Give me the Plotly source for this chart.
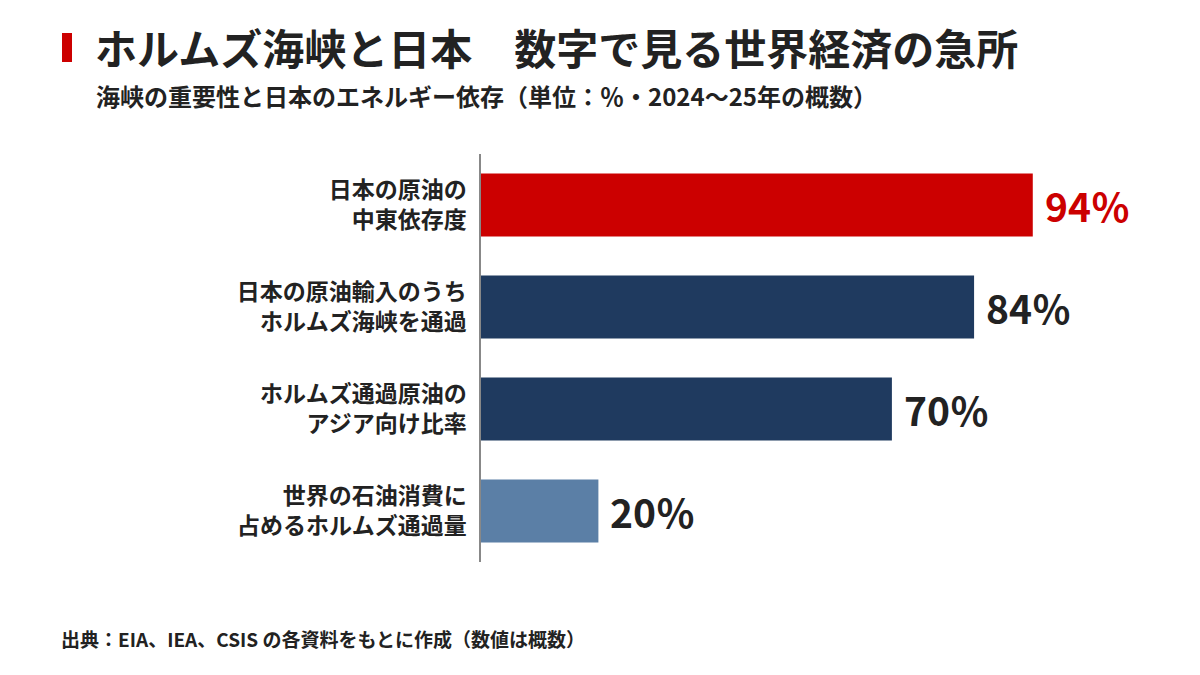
import plotly.graph_objects as go

# data
categories = [
    "日本の原油の<br>中東依存度",
    "日本の原油輸入のうち<br>ホルムズ海峡を通過",
    "ホルムズ通過原油の<br>アジア向け比率",
    "世界の石油消費に<br>占めるホルムズ通過量",
]
values = [94, 84, 70, 20]
bar_colors = ["#cc0000", "#1f3a5f", "#1f3a5f", "#5b7fa6"]
label_colors = ["#cc0000", "#222222", "#222222", "#222222"]

title_text = "ホルムズ海峡と日本　数字で見る世界経済の急所"
subtitle_text = "海峡の重要性と日本のエネルギー依存（単位：％・2024～25年の概数）"
source_text = "出典：EIA、IEA、CSIS の各資料をもとに作成（数値は概数）"

FONT = "Noto Sans CJK JP"
W, H = 1200, 675
OFF = 8  # page body margin shifts the figure
L, R, T, B = 481 - OFF, 140, 154 - OFF, 121


def px_x(px):
    return (px - OFF - L) / (W - L - R)


def px_y(py):
    return 1 - (py - OFF - T) / (H - T - B)


fig = go.Figure(
    go.Bar(
        x=values,
        y=categories,
        orientation="h",
        marker=dict(color=bar_colors, line=dict(width=0)),
        hoverinfo="skip",
    )
)

annotations = []
for v, c, col in zip(values, categories, label_colors):
    annotations.append(dict(
        x=v, y=c, xref="x", yref="y", text=f"{v}％",
        showarrow=False, xanchor="left", yanchor="middle", xshift=10,
        font=dict(family=FONT, size=39, color=col, weight="bold"),
    ))

annotations += [
    dict(x=px_x(93), y=px_y(46), xref="paper", yref="paper", text=title_text,
         showarrow=False, xanchor="left", yanchor="middle",
         font=dict(family=FONT, size=42, color="#222222", weight="bold")),
    dict(x=px_x(94), y=px_y(95), xref="paper", yref="paper", text=subtitle_text,
         showarrow=False, xanchor="left", yanchor="middle",
         font=dict(family=FONT, size=24, color="#222222", weight="bold")),
    dict(x=px_x(59), y=px_y(638), xref="paper", yref="paper", text=source_text,
         showarrow=False, xanchor="left", yanchor="middle",
         font=dict(family=FONT, size=19, color="#222222", weight="bold")),
]

fig.update_layout(
    width=W, height=H,
    margin=dict(l=L, r=R, t=T, b=B),
    paper_bgcolor="white", plot_bgcolor="white",
    bargap=0.38,
    showlegend=False,
    annotations=annotations,
    shapes=[dict(type="rect", xref="paper", yref="paper",
                 x0=px_x(62), x1=px_x(72), y0=px_y(33), y1=px_y(62),
                 fillcolor="#cc0000", line=dict(width=0))],
    font=dict(family=FONT),
)
fig.update_xaxes(range=[0, 100], visible=False, showgrid=False, zeroline=False)
fig.update_yaxes(
    autorange="reversed", showgrid=False, zeroline=False,
    showline=True, linecolor="#888888", linewidth=1.5,
    ticks="", ticklabelstandoff=8,
    tickfont=dict(family=FONT, size=23, color="#222222", weight="bold"),
)

fig.write_html("out.html")
